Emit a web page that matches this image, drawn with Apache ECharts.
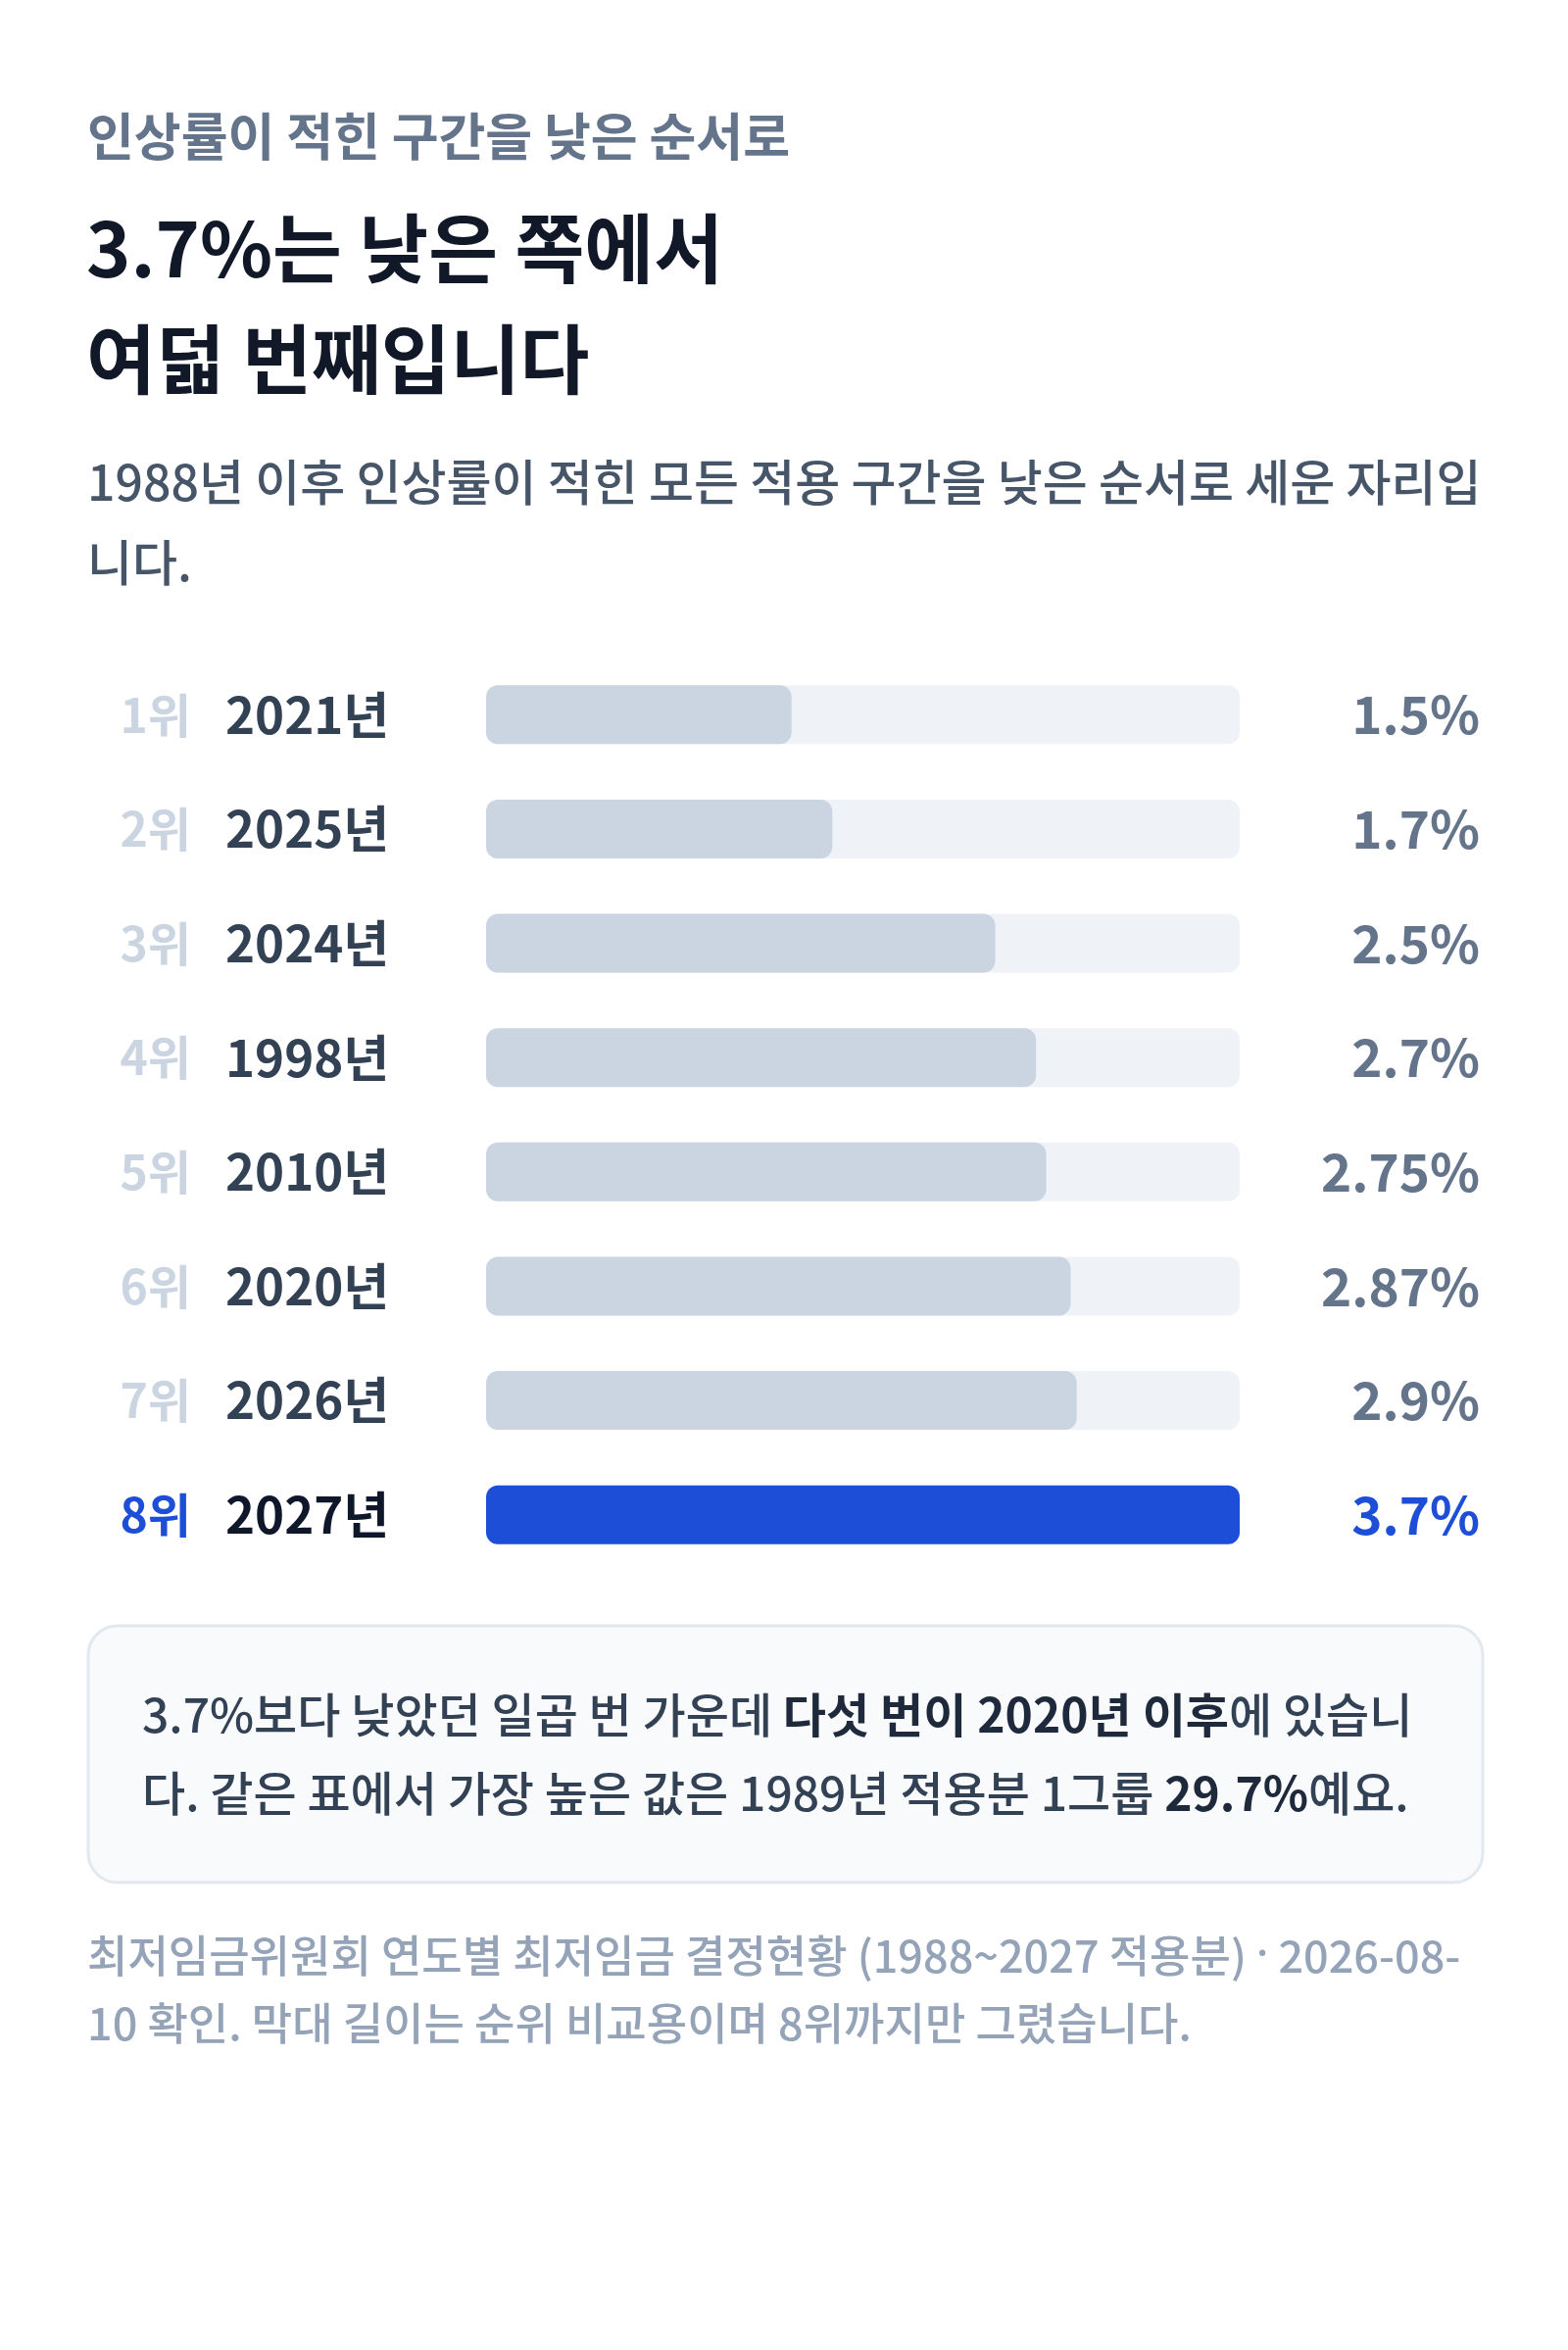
<!DOCTYPE html>
<html><head><meta charset="utf-8">
<script src="https://cdn.jsdelivr.net/npm/echarts@6/dist/echarts.min.js"></script>
<style>html,body{margin:0;padding:0;background:#fff}#c{width:1600px;height:2398px}</style>
</head><body><div id="c"></div>
<script>
const ranks = ['1위','2위','3위','4위','5위','6위','7위','8위'];
const years = ['2021년','2025년','2024년','1998년','2010년','2020년','2026년','2027년'];
const values = [1.5, 1.7, 2.5, 2.7, 2.75, 2.87, 2.9, 3.7];
const highlightIndex = 7;

const F = "'Noto Sans CJK KR', 'Noto Sans', sans-serif";
const chart = echarts.init(document.getElementById('c'), null, {renderer:'canvas'});

const catAxis = (extra) => Object.assign({
  type:'category', data: years, inverse:true,
  axisLine:{show:false}, axisTick:{show:false}, splitLine:{show:false}
}, extra);

function txt(x, y, text, size, color, weight) {
  return {type:'text', style:{x:x, y:y, text:text, fontSize:size, fontWeight:weight||'normal',
    fill:color, fontFamily:F, verticalAlign:'middle', textVerticalAlign:'middle'}};
}
function richTxt(x, y, text, size) {
  return {type:'text', style:{x:x, y:y, text:text, verticalAlign:'middle', textVerticalAlign:'middle',
    rich:{n:{fontSize:size, fontWeight:500, fill:'#334155', fontFamily:F},
          b:{fontSize:size, fontWeight:'bold', fill:'#1e293b', fontFamily:F}}}};
}

chart.setOption({
  backgroundColor:'#ffffff',
  animation:false,
  grid:{left:496, right:335, top:671, height:933, containLabel:false},
  xAxis:{type:'value', min:0, max:3.7, show:false},
  yAxis:[
    catAxis({position:'left', axisLabel:{margin:266, align:'left', fontFamily:F,
      formatter:(v,i)=> i===highlightIndex ? '{h|'+v+'}' : '{n|'+v+'}',
      rich:{n:{fontSize:51,fontWeight:'bold',color:'#334155',fontFamily:F},
            h:{fontSize:51,fontWeight:'bold',color:'#0f172a',fontFamily:F}}}}),
    catAxis({position:'left', data:ranks, axisLabel:{margin:301, align:'right', fontFamily:F,
      formatter:(v,i)=> i===highlightIndex ? '{h|'+v+'}' : '{n|'+v+'}',
      rich:{n:{fontSize:48,fontWeight:'bold',color:'#cbd5e1',fontFamily:F},
            h:{fontSize:48,fontWeight:'bold',color:'#1d4ed8',fontFamily:F}}}}),
    catAxis({position:'right', data:values.map(v=>v+'%'), axisLabel:{margin:245, align:'right', fontFamily:F,
      formatter:(v,i)=> i===highlightIndex ? '{h|'+v+'}' : '{n|'+v+'}',
      rich:{n:{fontSize:53,fontWeight:'bold',color:'#64748b',fontFamily:F},
            h:{fontSize:53,fontWeight:'bold',color:'#1d4ed8',fontFamily:F}}}})
  ],
  series:[{
    type:'bar', yAxisIndex:0, barWidth:60,
    showBackground:true,
    backgroundStyle:{color:'#eff3f8', borderRadius:12},
    data: values.map((v,i)=>({value:v, itemStyle:{color: i===highlightIndex ? '#1d4ed8' : '#cbd5e1', borderRadius:12}}))
  }],
  graphic:[
    txt(89, 139, '인상률이 적힌 구간을 낮은 순서로', 52, '#64748b', 'bold'),
    txt(88, 254, '3.7%는 낮은 쪽에서', 77, '#111827', 'bold'),
    txt(88, 367, '여덟 번째입니다', 77, '#111827', 'bold'),
    txt(89, 492, '1988년 이후 인상률이 적힌 모든 적용 구간을 낮은 순서로 세운 자리입', 50, '#475569', 500),
    txt(89, 574, '니다.', 50, '#475569', 500),
    {type:'rect', shape:{x:90, y:1659, width:1423, height:262, r:30}, style:{fill:'#f8fafc', stroke:'#e2e8f0', lineWidth:3}},
    richTxt(145, 1750, '{n|3.7%보다 낮았던 일곱 번 가운데 }{b|다섯 번이 2020년 이후}{n|에 있습니}', 48),
    richTxt(145, 1830, '{n|다. 같은 표에서 가장 높은 값은 1989년 적용분 1그룹 }{b|29.7%}{n|예요.}', 48),
    {type:'text', style:{x:89, y:1996, verticalAlign:'middle', textVerticalAlign:'middle',
      text:'{a|최저임금위원회 연도별 최저임금 결정현황 (1988~2027 적용분) }{d|·}{a| 2026-08-}',
      rich:{a:{fontSize:45, fontWeight:500, fill:'#94a3b8', fontFamily:F},
            d:{fontSize:45, fontWeight:500, fill:'#94a3b8', fontFamily:"'Noto Sans', sans-serif"}}}},
    txt(89, 2065, '10 확인. 막대 길이는 순위 비교용이며 8위까지만 그렸습니다.', 45, '#94a3b8', 500)
  ]
});
</script></body></html>
